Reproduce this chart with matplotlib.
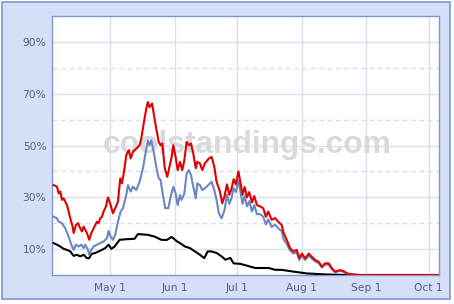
import matplotlib
matplotlib.use("Agg")
import matplotlib.pyplot as plt
import pandas as pd
from matplotlib.patches import Rectangle

# ---- data (days since season start Apr 3, percent) ----
season_start = "2008-04-03"

red_days = [0.8, 2.4, 3.2, 4.0, 4.8, 5.6, 7.2, 8.0, 8.8, 9.9, 10.4, 11.5, 12.5, 13.6, 14.4, 15.2, 16.0,
            16.8, 17.9, 18.9, 20.0, 20.8, 21.6, 22.4, 23.2, 24.0, 24.8, 25.9, 26.9, 28.2, 29.3, 30.4,
            31.7, 32.8, 33.6, 34.6, 35.7, 36.9, 37.8, 38.9, 40.5, 42.1, 42.9, 44.2, 45.3, 46.1, 46.9,
            48.1, 49.0, 50.1, 51.3, 52.2, 53.0, 54.2, 55.4, 57.5, 58.3, 59.4, 60.4, 61.5, 62.6, 63.6,
            64.7, 65.8, 66.8, 67.9, 69.1, 69.8, 71.1, 72.2, 73.5, 75.4, 76.7, 78.0, 79.1, 80.7, 81.8,
            82.8, 84.1, 85.2, 86.2, 87.3, 88.4, 89.6, 90.5, 91.6, 92.6, 93.7, 94.8, 96.1, 97.2, 98.5,
            100.0, 101.5, 102.8, 103.9, 105.6, 107.2, 108.7, 110.4, 111.2, 112.8, 114.4, 116.0, 117.6,
            118.8, 120.1, 121.7, 123.4, 124.9, 126.5, 128.2, 129.7, 131.3, 133.0, 134.6, 136.1, 138.5,
            140.2, 141.8, 145.0, 148.0, 185.3]
red_vals = [34.7, 34.1, 31.5, 32.2, 29.0, 29.6, 27.0, 24.5, 21.9, 18.7, 16.2, 19.3, 20.0, 18.0, 16.8,
            18.7, 17.4, 16.2, 13.6, 16.2, 18.0, 19.3, 20.6, 20.0, 21.9, 22.5, 24.5, 26.4, 30.0, 27.0,
            23.8, 25.8, 28.3, 37.3, 35.4, 39.8, 46.3, 48.2, 45.0, 47.5, 48.8, 50.1, 52.7, 59.1, 64.2,
            66.8, 64.8, 66.2, 61.7, 56.5, 51.4, 50.1, 50.8, 41.2, 37.9, 45.6, 50.1, 45.6, 40.5, 43.7,
            40.5, 44.3, 51.4, 50.1, 50.8, 46.9, 41.2, 43.7, 43.1, 40.5, 43.1, 45.0, 45.6, 41.8, 36.0,
            32.2, 27.7, 30.0, 35.0, 31.0, 33.0, 37.0, 35.0, 40.0, 36.0, 31.0, 34.0, 30.0, 32.0, 28.0,
            30.5, 27.0, 26.5, 25.8, 22.5, 24.5, 21.3, 22.0, 20.6, 19.3, 16.5, 13.6, 10.4, 9.1, 9.7,
            6.5, 8.3, 6.4, 8.3, 7.0, 5.8, 5.1, 3.2, 4.5, 4.5, 2.5, 1.3, 1.9, 1.5, 0.6, 0.2, 0.0, 0.0]

blue_days = [0.8, 2.4, 3.2, 4.8, 6.4, 8.0, 9.3, 10.4, 11.5, 12.8, 14.1, 15.2, 16.0, 17.3, 17.9, 18.9,
             20.0, 21.6, 23.2, 24.8, 26.4, 27.2, 28.2, 29.3, 30.4, 31.7, 33.0, 34.1, 35.7, 36.5, 37.8,
             38.9, 40.5, 42.1, 43.7, 44.8, 46.1, 46.9, 47.7, 48.9, 50.1, 51.3, 52.2, 53.3, 54.4, 55.9,
             57.2, 58.3, 59.4, 60.4, 61.5, 62.3, 63.6, 64.7, 65.8, 66.8, 67.9, 69.1, 69.8, 71.1, 72.2,
             73.5, 75.1, 76.7, 78.0, 79.1, 80.2, 81.5, 82.9,
             84.1, 85.2, 86.2, 87.3, 88.4, 89.6, 90.5, 91.6, 92.6, 93.7, 94.8, 96.1, 97.2, 98.5,
             100.0, 101.5, 102.8, 103.9, 105.6, 107.2, 108.7, 110.4,
             111.2, 112.8, 114.4, 116.0, 117.6, 118.8, 120.1, 121.7, 123.4, 124.9, 126.5, 128.2,
             129.7, 131.3, 133.0, 134.6, 136.1, 138.5, 140.2, 141.8, 145.0, 148.0, 185.3]
blue_vals = [22.5, 21.9, 20.6, 20.0, 18.0, 14.8, 11.7, 9.7, 11.7, 11.0, 11.7, 10.4, 11.7, 9.7, 7.8, 9.7,
             11.0, 11.7, 12.3, 12.9, 14.2, 17.0, 14.8, 13.6, 15.5, 20.6, 24.5, 25.8, 30.9, 34.7, 32.2,
             34.1, 32.8, 36.0, 41.2, 46.3, 52.0, 50.1, 52.0, 47.5, 41.8, 37.3, 36.7, 30.9, 25.8, 25.8,
             30.9, 34.1, 31.5, 27.0, 30.9, 29.0, 31.5, 39.2, 40.5, 38.6, 34.1, 29.6, 35.4, 34.7, 32.8,
             33.5, 34.7, 36.0, 32.8, 29.0, 23.8, 21.9, 25.0,
             31.0, 27.5, 29.5, 33.5, 32.0, 36.5, 32.5, 27.5, 30.5, 26.5, 28.5, 24.5, 27.0, 23.5,
             23.5, 22.5, 19.5, 21.5, 18.5, 19.5, 18.0, 17.0,
             14.0, 12.0, 9.5, 8.3, 8.8, 5.8, 7.5, 5.8, 7.5, 6.3, 5.2, 4.6,
             2.9, 4.0, 4.0, 2.2, 1.1, 1.6, 1.2, 0.5, 0.1, 0.0, 0.0]

black_days = [0.8, 2.4, 4.0, 5.6, 7.2, 8.8, 10.4, 12.0, 13.6, 15.2, 16.8, 17.9, 18.9, 20.8, 22.4, 24.0,
              25.6, 27.2, 28.5, 30.1, 32.5, 35.6, 39.7, 41.3, 46.1, 49.4, 52.5, 55.1, 57.5, 59.9, 61.5,
              63.9, 66.3, 68.7, 71.1, 73.2, 74.8, 76.7, 79.1, 81.5, 83.3, 85.7, 87.3, 90.5, 93.7, 97.7,
              104.1, 107.3, 110.2, 116.1, 122.5, 132.1, 141.8, 185.3]
black_vals = [12.3, 11.7, 11.0, 10.1, 9.7, 9.1, 7.4, 7.8, 7.2, 7.8, 6.5, 6.5, 8.1, 8.5, 9.1, 9.7,
              10.4, 11.7, 10.1, 11.0, 13.6, 13.8, 14.0, 15.8, 15.5, 14.8, 13.6, 13.5, 14.7, 13.1, 12.3,
              11.0, 10.4, 9.1, 7.8, 6.5, 9.1, 9.1, 8.5, 7.2, 5.9, 6.6, 4.5, 4.3, 3.6, 2.7,
              2.7, 2.0, 2.0, 1.3, 0.6, 0.2, 0.0, 0.0]

tick_dates = ["2008-05-01", "2008-06-01", "2008-07-01", "2008-08-01", "2008-09-01", "2008-10-01"]
tick_labels = ["May 1", "Jun 1", "Jul 1", "Aug 1", "Sep 1", "Oct 1"]
y_major = [10, 30, 50, 70, 90]
y_minor = [20, 40, 60, 80]
y_labels = ["10%", "30%", "50%", "70%", "90%"]

# ---- figure ----
W, H = 454, 304
fig = plt.figure(figsize=(W / 100, H / 100), dpi=100)
fig.patch.set_facecolor("white")
frame = Rectangle((1.5 / W, 5.5 / H), 448.5 / W, 297 / H, transform=fig.transFigure,
                  facecolor="#d5e0f8", edgecolor="#7f94d2", linewidth=1.2, zorder=-10)
fig.add_artist(frame)

ax = fig.add_axes([52 / W, 29 / H, 387 / W, 259 / H])
ax.set_zorder(5)
ax.set_facecolor("white")
start = pd.Timestamp(season_start)


def to_dates(days):
    return [start + pd.Timedelta(days=d) for d in days]


grid_c = "#d9e0f0"
tdates = [pd.Timestamp(t) for t in tick_dates]
for t in tdates:
    ax.axvline(t, color=grid_c, lw=1.0, zorder=1)
for v in y_major:
    ax.axhline(v, color=grid_c, lw=1.0, zorder=1)
for v in y_minor:
    ax.axhline(v, color=grid_c, lw=1.0, ls=(0, (3.5, 2.5)), zorder=1)

# watermark
wm = ax.text(0.505, 0.50, "coolstandings.com", transform=ax.transAxes, ha="center", va="center",
             fontsize=22, fontweight="bold", family="Liberation Sans", color="#d9d9d9", zorder=2)
fig.canvas.draw()
bb = wm.get_window_extent()
wm.set_fontsize(22 * 289.0 / bb.width)

ax.plot(to_dates(black_days), black_vals, color="black", lw=1.5, zorder=3)
ax.plot(to_dates(blue_days), blue_vals, color="#6b86c2", lw=1.5, zorder=4)
ax.plot(to_dates(red_days), red_vals, color="#e00000", lw=1.5, zorder=5)

ax.set_xlim(start, start + pd.Timedelta(days=186))
ax.set_ylim(0, 100)
ax.set_xticks(tdates)
ax.set_xticklabels(tick_labels)
ax.set_yticks(y_major)
ax.set_yticklabels(y_labels)
ax.tick_params(length=0, labelsize=7.7, labelcolor="#56607e")
ax.tick_params(axis="y", pad=4)
ax.tick_params(axis="x", pad=6)
for s in ax.spines.values():
    s.set_color("#8294d0")
    s.set_linewidth(1.0)

fig.savefig("out.png", dpi=100, facecolor="white")
